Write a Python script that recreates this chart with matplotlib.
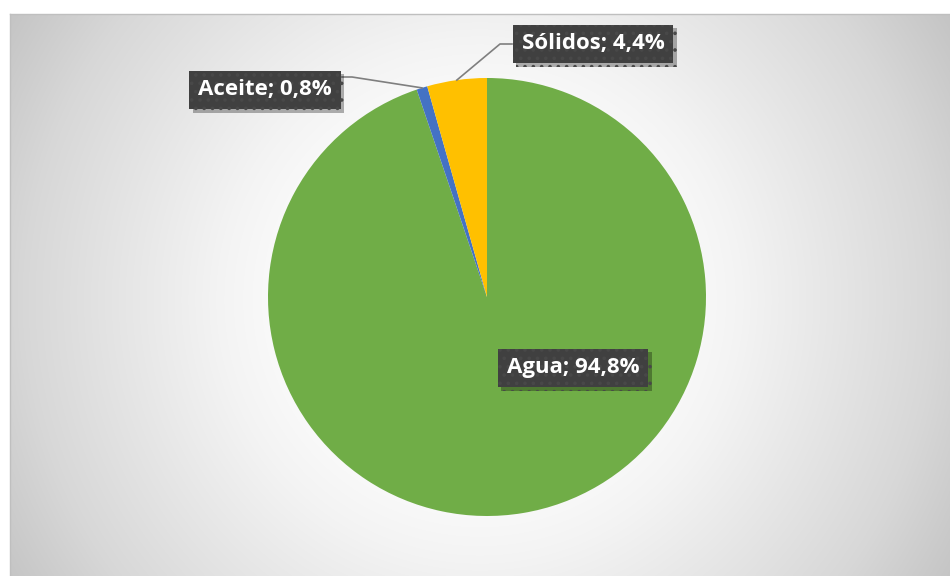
import numpy as np
import matplotlib.pyplot as plt
import matplotlib.patheffects as pe

plt.rcParams['font.family'] = ['Open Sans', 'DejaVu Sans']
plt.rcParams['hatch.linewidth'] = 1.4

# composition data
labels = ['Agua', 'Aceite', 'Sólidos']
values = [94.8, 0.8, 4.4]
colors = ['#70AD47', '#4472C4', '#FFC000']

W, H = 950, 576
fig = plt.figure(figsize=(W / 100, H / 100), dpi=100)
fig.patch.set_facecolor('white')

# chart area (x 10..950, y 14..576 px) with circular grey gradient
bg = fig.add_axes([10 / W, 0, (W - 10) / W, (H - 14) / H])
gx, gy = np.meshgrid(np.arange(10, W) + 0.5, np.arange(14, H) + 0.5)
d = np.hypot(gx - 480, gy - 300)
shade = np.interp(d, [0, 200, 260, 340, 455, 550], [1.0, 0.98, 0.955, 0.91, 0.845, 0.77])
bg.imshow(np.dstack([shade] * 3), aspect='auto', extent=(0, 1, 0, 1), interpolation='bilinear')
bg.set_xticks([])
bg.set_yticks([])
for side, s in bg.spines.items():
    s.set_color('#BFBFBF')
    s.set_linewidth(1)
    s.set_visible(side in ('top', 'left'))

# pie, centre (487, 297) px, radius 219 px
cx, cy, r = 487, 297, 219
ax = fig.add_axes([(cx - r) / W, (H - cy - r) / H, 2 * r / W, 2 * r / H])
wedges, _ = ax.pie(values, colors=colors, startangle=90, counterclock=False,
                   radius=1, wedgeprops=dict(linewidth=0))
ax.set_xlim(-1, 1)
ax.set_ylim(-1, 1)
ax.set_aspect('auto')
ax.axis('off')


def px(x, y):
    return (x - cx) / r, (cy - y) / r


def mid_point(w):
    a = np.deg2rad((w.theta1 + w.theta2) / 2)
    return np.cos(a), np.sin(a)


def box_label(x, y, text):
    t = ax.text(x, y, text, ha='center', va='center', color='white',
                fontsize=16, fontweight='bold', zorder=5, clip_on=False,
                bbox=dict(boxstyle='square,pad=0.4', facecolor='#404040',
                          edgecolor='#484848', linewidth=0, hatch='..'))
    t.get_bbox_patch().set_path_effects(
        [pe.withSimplePatchShadow(offset=(2.5, -2.5), shadow_rgbFace='black', alpha=0.3),
         pe.Normal()])
    return t


texts = [f'{n}; {v:.1f}%'.replace('.', ',') for n, v in zip(labels, values)]

# Agua inside the slice
box_label(*px(573, 368), texts[0])

# Aceite with leader line
ex, ey = mid_point(wedges[1])
lx, ly = px(342, 77)
hx, _ = px(352, 77)
ax.plot([lx, hx, ex], [ly, ly, ey], color='#7F7F7F', lw=1.2, zorder=4, clip_on=False)
box_label(*px(265, 90), texts[1])

# Sólidos with leader line
ex, ey = mid_point(wedges[2])
lx, ly = px(512, 44)
hx, _ = px(500, 44)
ax.plot([lx, hx, ex], [ly, ly, ey], color='#7F7F7F', lw=1.2, zorder=4, clip_on=False)
box_label(*px(593, 44), texts[2])

fig.savefig('out.png', dpi=100)
